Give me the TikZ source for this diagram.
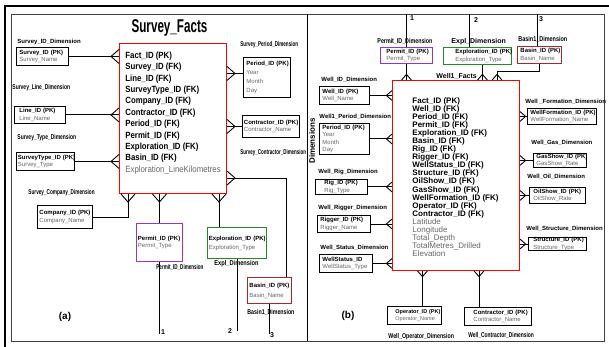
\documentclass[tikz,border=0pt]{standalone}
\usepackage{fontspec}
\setmainfont{Liberation Sans}
\usepackage{xcolor}
\usepackage{graphicx}

\definecolor{permitpurple}{HTML}{9A32CD}
\definecolor{explgreen}{HTML}{228B22}
\definecolor{basinred}{HTML}{A52A2A}
\definecolor{attrgray}{gray}{0.4}

\newcommand{\pkey}[1]{\mbox{\bfseries #1}}
\newcommand{\attr}[1]{\mbox{\color{attrgray}#1}}
\newcommand{\nlbl}[2][0.7]{\scalebox{#1}[1]{#2}}

\tikzset{
  dimbox/.style={draw, fill=white, anchor=north west, align=left, inner ysep=0pt, font=\fontsize{6}{7.5}\selectfont},
  factbox/.style={draw=red, line width=1pt, anchor=north west, inner sep=0pt},
  factatxt/.style={anchor=base west, inner sep=0pt, xscale=0.87, font=\fontsize{9}{11}\selectfont\bfseries},
  factbtxt/.style={anchor=base west, inner sep=0pt, font=\fontsize{8}{9}\selectfont\bfseries},
  dimlbl/.style={anchor=west, inner sep=0pt, font=\fontsize{6}{7}\selectfont\bfseries},
  narrowlbl/.style={anchor=west, inner sep=0pt, font=\fontsize{7}{8}\selectfont\bfseries},
  numlbl/.style={inner sep=0pt, font=\fontsize{7}{8}\selectfont\bfseries},
  crowfoot/.pic={\draw (0,-7) -- (8,0) -- (0,7);},
}

\begin{document}
\begin{tikzpicture}[x=1pt, y=-1pt, line width=0.9pt]
  \useasboundingbox (0,0) rectangle (609,347);
  % frame and the two panels
  \draw[line width=2pt] (5,347) -- (5,6) -- (609,6);
  \draw[line width=0.8pt, black!75] (11,14) rectangle (604,341);
  \draw[line width=0.8pt] (307,14) -- (307,341);

  % ---------- (a) survey facts ----------
  \node[anchor=base, inner sep=0pt, font=\fontsize{18.5}{20}\selectfont\bfseries] (titlea) at (169.5,33) {\scalebox{0.63}[1]{Survey\_Facts}};
  \node[factbox, minimum width=107pt, minimum height=150pt] (factsa) at (119,43) {};
  \foreach \fk [count=\i from 0] in {Fact\_ID (PK), Survey\_ID (FK), Line\_ID (FK), SurveyType\_ID (FK), Company\_ID (FK), Contractor\_ID (FK), Period\_ID (FK), Permit\_ID (FK), Exploration\_ID (FK), Basin\_ID (FK)}
    \node[factatxt] (fa\i) at (125,58.3+11.4*\i) {\fk};
  \node[factatxt, font=\fontsize{9}{11}\selectfont, text=attrgray] (fa10) at (125,172.3) {Exploration\_LineKilometres};

  % dimension tables of (a)
  \node[dimbox, inner xsep=3pt, text width=46pt, minimum height=18pt] (sid) at (16,47) {\pkey{Survey\_ID (PK)}\\\attr{Survey\_Name}};
  \node[dimbox, inner xsep=5pt, text width=41pt, minimum height=17pt] (lid) at (14,106) {\pkey{Line\_ID (PK)}\\\attr{Line\_Name}};
  \node[dimbox, inner xsep=1.5pt, text width=55pt, minimum height=18pt] (stid) at (16,152) {\pkey{SurveyType\_ID (PK)}\\\attr{Survey\_Type}};
  \node[dimbox, inner xsep=2pt, text width=51pt, minimum height=23pt] (compid) at (37,205) {\pkey{Company\_ID (PK)}\\\attr{Company\_Name}};
  \node[dimbox, inner xsep=3pt, text width=41pt, minimum height=40pt, font=\fontsize{6}{9}\selectfont] (perid) at (243,57) {\pkey{Period\_ID (PK)}\\\attr{Year}\\\attr{Month}\\\attr{Day}};
  \node[dimbox, inner xsep=1.5pt, text width=54pt, minimum height=22pt, font=\fontsize{6}{7}\selectfont] (conid) at (242,115) {\pkey{Contractor\_ID (PK)}\\\attr{Contractor\_Name}};
  \node[dimbox, draw=permitpurple, inner xsep=1.5pt, text width=43pt, minimum height=38pt] (permid) at (136,223) {\pkey{Permit\_ID (PK)}\\\attr{Permit\_Type}};
  \node[dimbox, draw=explgreen, inner xsep=1.5pt, text width=56pt, minimum height=31pt, font=\fontsize{6}{9}\selectfont] (explid) at (207,227) {\pkey{Exploration\_ID (PK)}\\\attr{Exploration\_Type}};
  \node[dimbox, draw=basinred, inner xsep=2pt, text width=40pt, minimum height=26pt, font=\fontsize{6}{10}\selectfont] (basid) at (247,277) {\pkey{Basin\_ID (PK)}\\\attr{Basin\_Name}};

  % labels of (a)
  \node[dimlbl] (sidlbl) at (17,42) {Survey\_ID\_Dimension};
  \node[narrowlbl] (lidlbl) at (12,88) {\nlbl[0.71]{Survey\_Line\_Dimension}};
  \node[narrowlbl] (stidlbl) at (17,138) {\nlbl[0.71]{Survey\_Type\_Dimension}};
  \node[narrowlbl] (complbl) at (28,193) {\nlbl[0.67]{Survey\_Company\_Dimension}};
  \node[narrowlbl] (perlbl) at (240,45) {\nlbl[0.65]{Survey\_Period\_Dimension}};
  \node[narrowlbl] (conlbl) at (240,153) {\nlbl[0.64]{Survey\_Contractor\_Dimension}};
  \node[narrowlbl] (permlbl) at (156,267) {\nlbl[0.65]{Permit\_ID\_Dimension}};
  \node[narrowlbl] (expllbl) at (214,264) {\nlbl[0.81]{Expl\_Dimension}};
  \node[narrowlbl] (baslbl) at (247,312) {\nlbl[0.75]{Basin1\_Dimension}};
  \node[font=\fontsize{10}{12}\selectfont\bfseries] (capa) at (65,317) {(a)};

  % connectors of (a)
  \foreach \d in {sid, lid, stid} {
    \draw (\d.east) -- (\d.east -| factsa.west);
    \pic[rotate=180] at (\d.east -| factsa.west) {crowfoot};
  }
  \coordinate (pera) at ([yshift=4pt]perid.west);
  \draw (pera) -- (pera -| factsa.east);
  \pic at (pera -| factsa.east) {crowfoot};
  \draw (conid.west) -- (conid.west -| factsa.east);
  \pic at (conid.west -| factsa.east) {crowfoot};
  \coordinate (fbc) at ([xshift=9pt]factsa.south west);
  \draw (compid.east) -| (fbc);
  \pic[rotate=-90] at (fbc) {crowfoot};
  \draw (permid.north |- factsa.south) -- (permid.north);
  \pic[rotate=-90] at (permid.north |- factsa.south) {crowfoot};
  \coordinate (fbe) at ([xshift=12pt]explid.north west);
  \draw (fbe |- factsa.south) -- (fbe);
  \pic[rotate=-90] at (fbe |- factsa.south) {crowfoot};
  \coordinate (fbb) at ([yshift=16pt]factsa.south east);
  \draw (fbb) -| ([xshift=-5pt]basid.north east);
  \pic at (fbb) {crowfoot};

  % links to (b)
  \coordinate (n1a) at (permid.south |- 0,334);
  \coordinate (n2a) at (explid.south |- 0,331);
  \coordinate (n3a) at (basid.south |- 0,334);
  \draw (permid.south) -- (n1a);
  \draw (explid.south) -- (n2a);
  \draw (basid.south) -- (n3a);
  \node[numlbl] (one_a) at (163,332) {1};
  \node[numlbl] (two_a) at (230,331) {2};
  \node[numlbl] (three_a) at (272,335) {3};

  % ---------- (b) well facts ----------
  \node[factbox, minimum width=127pt, minimum height=190pt] (wfacts) at (392,80) {};
  \foreach \fk [count=\i from 0] in {Fact\_ID (PK), Well\_ID (FK), Period\_ID (FK), Permit\_ID (FK), Exploration\_ID (FK), Basin\_ID (FK), Rig\_ID (FK), Rigger\_ID (FK), WellStatus\_ID (FK), Structure\_ID (FK), OilShow\_ID (FK), GasShow\_ID (FK), WellFormation\_ID (FK), Operator\_ID (FK), Contractor\_ID (FK)}
    \node[factbtxt] (fb\i) at (412,103.3+8.07*\i) {\fk};
  \foreach \fk [count=\i from 15] in {Latitude, Longitude, Total\_Depth, TotalMetres\_Drilled, Elevation}
    \node[factbtxt, font=\fontsize{8}{9}\selectfont, text=attrgray] (fb\i) at (412,103.3+8.07*\i) {\fk};
  \node[rotate=90, inner sep=0pt, font=\fontsize{8}{9}\selectfont\bfseries] (dimtxt) at (312,141) {Dimensions};

  % dimension tables of (b)
  \node[dimbox, inner xsep=3pt, text width=44pt, minimum height=18pt] (wid) at (319,86) {\pkey{Well\_ID (PK)}\\\attr{Well\_Name}};
  \node[dimbox, inner xsep=3pt, text width=44pt, minimum height=31pt] (wperid) at (319,123) {\pkey{Period\_ID (PK)}\\\attr{Year}\\\attr{Month}\\\attr{Day}};
  \node[dimbox, inner xsep=9pt, text width=34pt, minimum height=15pt] (rigid) at (315,179) {\pkey{Rig\_ID (PK)}\\\attr{Rig\_Type}};
  \node[dimbox, inner xsep=3pt, text width=47pt, minimum height=17pt] (riggid) at (317,215) {\pkey{Rigger\_ID (PK)}\\\attr{Rigger\_Name}};
  \node[dimbox, inner xsep=3pt, text width=47pt, minimum height=18pt] (wsid) at (319,254) {\pkey{WellStatus\_ID}\\\attr{WellStatus\_Type}};
  \node[dimbox, inner xsep=3pt, text width=63pt, minimum height=16pt] (wfid) at (527,108) {\pkey{WellFormation\_ID (PK)}\\\attr{WellFormation\_Name}};
  \node[dimbox, inner xsep=3pt, text width=47pt, minimum height=14pt] (gasid) at (533,153) {\pkey{GasShow\_ID (PK)}\\\attr{GasShow\_Rate}};
  \node[dimbox, inner xsep=4pt, text width=48pt, minimum height=16pt] (oilid) at (529,187) {\pkey{OilShow\_ID (PK)}\\\attr{OilShow\_Rate}};
  \node[dimbox, inner xsep=5pt, text width=48pt, minimum height=13pt] (strid) at (528,237) {\pkey{Structure\_ID (PK)}\\\attr{Structure\_Type}};
  \node[dimbox, inner xsep=8pt, text width=38pt, minimum height=18pt, font=\fontsize{5.5}{7.5}\selectfont] (opid) at (387,306) {\pkey{Operator\_ID (PK)}\\\attr{Operator\_Name}};
  \node[dimbox, inner xsep=9pt, text width=49pt, minimum height=18pt] (wconid) at (464,307) {\pkey{Contractor\_ID (PK)}\\\attr{Contractor\_Name}};
  \node[dimbox, draw=permitpurple, inner xsep=6pt, text width=40pt, minimum height=16pt] (wpermid) at (380,47) {\pkey{Permit\_ID (PK)}\\\attr{Permit\_Type}};
  \node[dimbox, draw=explgreen, inner xsep=12pt, text width=44pt, minimum height=17pt] (wexplid) at (443,47) {\pkey{Exploration\_ID (PK)}\\\attr{Exploration\_Type}};
  \node[dimbox, draw=basinred, inner xsep=3pt, text width=38pt, minimum height=17pt] (wbasid) at (517,46) {\pkey{Basin\_ID (PK)}\\\attr{Basin\_Name}};

  % labels of (b)
  \node[dimlbl] (widlbl) at (321,80) {Well\_ID\_Dimension};
  \node[dimlbl] (wperlbl) at (319,117) {Well1\_Period\_Dimension};
  \node[dimlbl] (riglbl) at (318,172) {Well\_Rig\_Dimension};
  \node[dimlbl] (rigglbl) at (318,208) {Well\_Rigger\_Dimension};
  \node[dimlbl] (wslbl) at (320,248) {Well\_Status\_Dimension};
  \node[dimlbl] (wflbl) at (525,102) {Well \_Formation\_Dimension};
  \node[dimlbl] (gaslbl) at (531,143) {Well\_Gas\_Dimension};
  \node[dimlbl] (oillbl) at (527,177) {Well\_Oil\_Dimension};
  \node[dimlbl] (strlbl) at (526,229) {Well\_Structure\_Dimension};
  \node[narrowlbl] (oplbl) at (388,337) {\nlbl[0.75]{Well\_Operator\_Dimension}};
  \node[narrowlbl] (wconlbl) at (468,335) {\nlbl[0.70]{Well\_Contractor\_Dimension}};
  \node[narrowlbl] (wpermlbl) at (377,41) {\nlbl[0.76]{Permit\_ID\_Dimension}};
  \node[dimlbl, font=\fontsize{7}{8}\selectfont\bfseries] (wexpllbl) at (451,42) {Expl\_Dimension};
  \node[narrowlbl] (wbaslbl) at (518,39) {\nlbl[0.78]{Basin1\_Dimension}};
  \node[dimlbl, font=\fontsize{7}{8}\selectfont\bfseries] (wfactslbl) at (436,76) {Well1\_Facts};
  \node[font=\fontsize{10}{12}\selectfont\bfseries] (capb) at (348,316) {(b)};

  % connectors of (b)
  \foreach \d in {wid, wperid, rigid, riggid, wsid} {
    \draw (\d.east) -- (\d.east -| wfacts.west);
    \pic[rotate=180, scale=0.7] at (\d.east -| wfacts.west) {crowfoot};
  }
  \foreach \d in {wfid, gasid, oilid, strid} {
    \draw (\d.west) -- (\d.west -| wfacts.east);
    \pic[scale=0.7] at (\d.west -| wfacts.east) {crowfoot};
  }
  \coordinate (opc) at ([xshift=8pt]opid.north);
  \draw (opc) -- (opc |- wfacts.south);
  \pic[rotate=-90, scale=0.7] at (opc |- wfacts.south) {crowfoot};
  \coordinate (wcc) at ([xshift=15pt]wconid.north west);
  \draw (wcc) -- (wcc |- wfacts.south);
  \pic[rotate=-90, scale=0.7] at (wcc |- wfacts.south) {crowfoot};
  \draw (wpermid.south) -- (wpermid.south |- wfacts.north);
  \pic[rotate=90, scale=0.7] at (wpermid.south |- wfacts.north) {crowfoot};
  \coordinate (wec) at ([xshift=5pt]wexplid.south);
  \draw (wec) -- (wec |- wfacts.north);
  \pic[rotate=90, scale=0.7] at (wec |- wfacts.north) {crowfoot};
  \coordinate (wbc) at ([xshift=105pt]wfacts.north west);
  \draw (wbasid.south) -- ++(0,8) -| (wbc);
  \pic[rotate=90, scale=0.7] at (wbc) {crowfoot};

  % links from (a)
  \coordinate (t1b) at (406,14);
  \coordinate (t2b) at (469,14);
  \coordinate (t3b) at (537,14);
  \draw (t1b) -- (t1b |- wpermid.north);
  \draw (t2b) -- (t2b |- wexplid.north);
  \draw (t3b) -- (t3b |- wbasid.north);
  \node[numlbl] (one_b) at (412,18) {1};
  \node[numlbl] (two_b) at (476,20) {2};
  \node[numlbl] (three_b) at (541,19) {3};
\end{tikzpicture}
\end{document}
